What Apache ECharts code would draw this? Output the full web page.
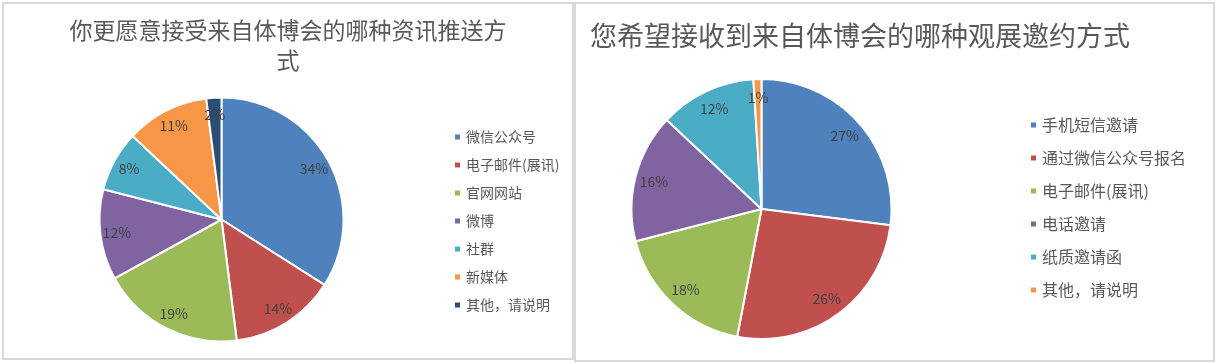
<!DOCTYPE html>
<html>
<head>
<meta charset="utf-8">
<script src="https://cdn.jsdelivr.net/npm/echarts@6/dist/echarts.min.js"></script>
<style>
  html, body { margin: 0; padding: 0; background: #fff; }
  #chart { width: 1217px; height: 363px; }
</style>
</head>
<body>
<div id="chart"></div>
<script>
// left chart: 资讯推送方式
const leftTitle = '你更愿意接受来自体博会的哪种资讯推送方\n式'
const leftNames = ['微信公众号', '电子邮件(展讯)', '官网网站', '微博', '社群', '新媒体', '其他，请说明']
const leftValues = [34, 14, 19, 12, 8, 11, 2]
const leftColors = ['#4f81bd', '#c0504d', '#9bbb59', '#8064a2', '#4bacc6', '#f79646', '#2c4d75']

// right chart: 观展邀约方式
const rightTitle = '您希望接收到来自体博会的哪种观展邀约方式'
const rightNames = ['手机短信邀请', '通过微信公众号报名', '电子邮件(展讯)', '电话邀请', '纸质邀请函', '其他，请说明']
const rightValues = [27, 26, 18, 16, 12, 1]
const rightColors = ['#4f81bd', '#c0504d', '#9bbb59', '#8064a2', '#4bacc6', '#f79646']

const FONT = '"Noto Sans CJK SC", "Noto Sans", sans-serif'

const toData = (names, values, colors) =>
  names.map((n, i) => ({ name: n, value: values[i], itemStyle: { color: colors[i] } }))

// both pies share some names, so give the legend its colours directly
const legendData = (names, colors) =>
  names.map((n, i) => ({ name: n, itemStyle: { color: colors[i] } }))

// main pie + transparent ring that only carries the labels (puts them near the rim)
const pieSeries = (names, values, colors, center, r, labelInner) => [
  {
    type: 'pie',
    center: center,
    radius: r,
    startAngle: 90,
    clockwise: true,
    data: toData(names, values, colors),
    itemStyle: { borderColor: '#fff', borderWidth: 2 },
    label: { show: false },
    labelLine: { show: false },
    emphasis: { scale: false }
  },
  {
    type: 'pie',
    center: center,
    radius: [labelInner, r],
    startAngle: 90,
    clockwise: true,
    silent: true,
    data: names.map((n, i) => ({ name: n, value: values[i] })),
    itemStyle: { color: 'transparent' },
    label: {
      show: true,
      position: 'inside',
      formatter: '{c}%',
      color: '#404040',
      fontSize: 14,
      fontFamily: FONT
    },
    labelLine: { show: false }
  }
]

const chart = echarts.init(document.getElementById('chart'))

chart.setOption({
  backgroundColor: '#fff',
  animation: false,
  graphic: [
    { type: 'rect', shape: { x: 3, y: 3, width: 570, height: 356 },
      style: { fill: 'transparent', stroke: '#d9d9d9', lineWidth: 2 } },
    { type: 'rect', shape: { x: 575, y: 3, width: 639, height: 358 },
      style: { fill: 'transparent', stroke: '#d9d9d9', lineWidth: 2 } },
    { type: 'text', x: 288, y: 45,
      style: { text: leftTitle, fontSize: 23, fontFamily: FONT, fill: '#595959',
        align: 'center', verticalAlign: 'middle', lineHeight: 30 } },
    { type: 'text', x: 590, y: 36,
      style: { text: rightTitle, fontSize: 27, fontFamily: FONT, fill: '#595959',
        align: 'left', verticalAlign: 'middle' } }
  ],
  legend: [
    {
      data: legendData(leftNames, leftColors),
      orient: 'vertical',
      left: 448,
      top: 122,
      icon: 'rect',
      itemWidth: 7,
      itemHeight: 7,
      itemGap: 8,
      textStyle: { color: '#595959', fontSize: 14, fontFamily: FONT, lineHeight: 20 }
    },
    {
      data: legendData(rightNames, rightColors),
      orient: 'vertical',
      left: 1024,
      top: 110,
      icon: 'rect',
      itemWidth: 7,
      itemHeight: 7,
      itemGap: 13,
      textStyle: { color: '#595959', fontSize: 16, fontFamily: FONT, lineHeight: 20 }
    }
  ],
  series: [
    ...pieSeries(leftNames, leftValues, leftColors, [221.5, 219.5], 122, 83),
    ...pieSeries(rightNames, rightValues, rightColors, [761.5, 209], 130, 86)
  ]
})
</script>
</body>
</html>
